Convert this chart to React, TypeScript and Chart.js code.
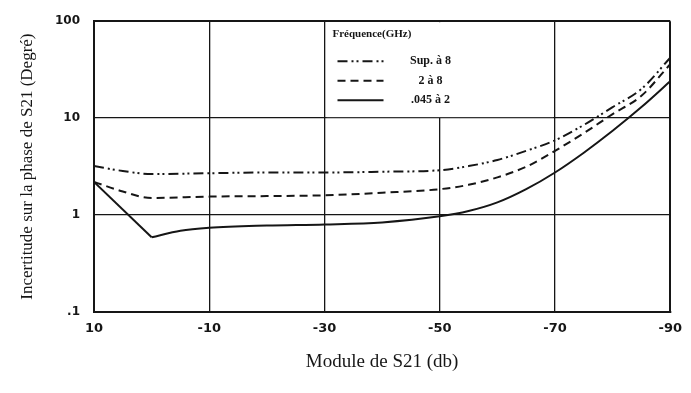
import React, { useEffect, useRef } from "react";
import { Chart, registerables } from "chart.js";

Chart.register(...registerables);

// Axis ticks
const xTickValues = [10, -10, -30, -50, -70, -90];
const xTickLabels = ["10", "-10", "-30", "-50", "-70", "-90"];
const yTickValues = [0.1, 1, 10, 100];
const yTickLabels = [".1", "1", "10", "100"];

// Series: Sup. à 8 GHz (dash-dot-dot)
const supA8X = [10, 5, 0, -10, -20, -30, -40, -50, -55, -60, -65, -70, -75, -80, -85, -90];
const supA8Y = [3.2, 2.85, 2.65, 2.7, 2.75, 2.75, 2.8, 2.9, 3.2, 3.7, 4.6, 5.9, 8.5, 13, 20, 42];

// Series: 2 à 8 GHz (dashed)
const deux8X = [10, 5, 0, -10, -20, -30, -40, -50, -55, -60, -65, -70, -75, -80, -85, -90];
const deux8Y = [2.2, 1.75, 1.5, 1.55, 1.57, 1.6, 1.7, 1.85, 2.05, 2.45, 3.15, 4.6, 7.0, 11, 17, 36];

// Series: .045 à 2 GHz (solid); sharp minimum at index 1
const basX = [10, 0, -5, -10, -20, -30, -40, -50, -55, -60, -65, -70, -75, -80, -85, -90];
const basY = [2.2, 0.59, 0.69, 0.74, 0.78, 0.8, 0.84, 0.97, 1.1, 1.35, 1.85, 2.75, 4.4, 7.4, 13, 24];
const basCorner = 1;

const seriesNames = ["Sup. à 8", "2 à 8", ".045 à 2"];
const legendTitle = "Fréquence(GHz)";
const xTitle = "Module de S21 (db)";
const yTitle = "Incertitude sur la phase de S21 (Degré)";

const INK = "#161616";

const toPoints = (xs: number[], ys: number[]) => xs.map((x, i) => ({ x, y: ys[i] }));

const legendPlugin = {
  id: "cellLegend",
  afterDraw(chart: any) {
    const { ctx } = chart;
    const x = chart.scales.x;
    const y = chart.scales.y;
    const xl = x.getPixelForValue(-30);
    const xr = x.getPixelForValue(-70);
    const yt = y.getPixelForValue(100);
    const yb = y.getPixelForValue(10);
    ctx.save();
    ctx.fillStyle = "#ffffff";
    ctx.fillRect(xl + 2, yt + 1, xr - xl - 4, yb - yt - 2);
    ctx.fillStyle = INK;
    ctx.textBaseline = "middle";
    ctx.textAlign = "left";
    ctx.font = "bold 11px 'Liberation Serif'";
    ctx.fillText(legendTitle, xl + 8, yt + 13);
    const entries = chart.data.datasets.filter((ds: any) => !ds.hideInLegend);
    entries.forEach((ds: any, i: number) => {
      const ly = yt + 40 + i * 19.5;
      ctx.beginPath();
      ctx.setLineDash(ds.borderDash || []);
      ctx.lineWidth = 2;
      ctx.strokeStyle = INK;
      ctx.moveTo(xl + 13, ly);
      ctx.lineTo(xl + 59, ly);
      ctx.stroke();
      ctx.setLineDash([]);
      ctx.font = "bold 12px 'Liberation Serif'";
      ctx.textAlign = "center";
      ctx.fillText(ds.label, xl + 106, ly);
    });
    ctx.restore();
  },
};

export default function App() {
  const ref = useRef<HTMLCanvasElement>(null);

  useEffect(() => {
    const basPts = toPoints(basX, basY);
    const chart = new Chart(ref.current as HTMLCanvasElement, {
      type: "line",
      data: {
        datasets: [
          {
            label: seriesNames[0],
            data: toPoints(supA8X, supA8Y),
            borderColor: INK,
            borderWidth: 2,
            borderDash: [10, 4, 2, 3, 2, 4],
            pointRadius: 0,
            fill: false,
            cubicInterpolationMode: "monotone",
          },
          {
            label: seriesNames[1],
            data: toPoints(deux8X, deux8Y),
            borderColor: INK,
            borderWidth: 2,
            borderDash: [8, 5],
            pointRadius: 0,
            fill: false,
            cubicInterpolationMode: "monotone",
          },
          {
            label: seriesNames[2],
            data: basPts.slice(basCorner),
            borderColor: INK,
            borderWidth: 2,
            pointRadius: 0,
            fill: false,
            cubicInterpolationMode: "monotone",
          },
          {
            label: seriesNames[2],
            hideInLegend: true,
            data: basPts.slice(0, basCorner + 1),
            borderColor: INK,
            borderWidth: 2,
            pointRadius: 0,
            fill: false,
            tension: 0,
          },
        ],
      },
      options: {
        animation: false,
        responsive: true,
        maintainAspectRatio: false,
        layout: { padding: { top: 12, right: 20, left: 0, bottom: 0 } },
        plugins: {
          legend: { display: false },
          tooltip: { enabled: false },
        },
        scales: {
          x: {
            type: "linear",
            reverse: true,
            min: -90,
            max: 10,
            afterBuildTicks: (scale: any) => {
              scale.ticks = xTickValues.map((v) => ({ value: v }));
            },
            afterFit: (scale: any) => {
              scale.height = 81;
            },
            ticks: {
              autoSkip: false,
              maxRotation: 0,
              padding: 9,
              color: INK,
              font: { family: "DejaVu Sans", size: 13, weight: "bold" },
              callback: (_v: any, i: number) => xTickLabels[i],
            },
            grid: {
              color: INK,
              lineWidth: (c: any) => (c.tick && c.tick.value === -90 ? 2 : 1.3),
              drawTicks: false,
            },
            border: { display: true, color: INK, width: 2 },
            title: {
              display: true,
              text: xTitle,
              color: INK,
              font: { family: "Liberation Serif", size: 19 },
              padding: { top: 0, bottom: 20 },
            },
          },
          y: {
            type: "logarithmic",
            min: 0.1,
            max: 100,
            afterBuildTicks: (scale: any) => {
              scale.ticks = yTickValues.map((v) => ({ value: v }));
            },
            afterFit: (scale: any) => {
              scale.width = 94;
            },
            ticks: {
              autoSkip: false,
              padding: 14,
              color: INK,
              font: { family: "DejaVu Sans", size: 12, weight: "bold" },
              callback: (_v: any, i: number) => yTickLabels[i],
            },
            grid: {
              color: INK,
              lineWidth: (c: any) => (c.tick && c.tick.value === 100 ? 2 : 1.3),
              drawTicks: false,
            },
            border: { display: true, color: INK, width: 2 },
            title: {
              display: true,
              text: yTitle,
              color: INK,
              font: { family: "Liberation Serif", size: 17 },
              padding: { top: 17, bottom: 0 },
            },
          },
        },
      },
      plugins: [legendPlugin],
    } as any);
    return () => chart.destroy();
  }, []);

  return (
    <div
      style={{
        position: "absolute",
        left: 0,
        top: 0,
        width: 691,
        height: 393,
        background: "#ffffff",
      }}
    >
      <canvas ref={ref} />
    </div>
  );
}
